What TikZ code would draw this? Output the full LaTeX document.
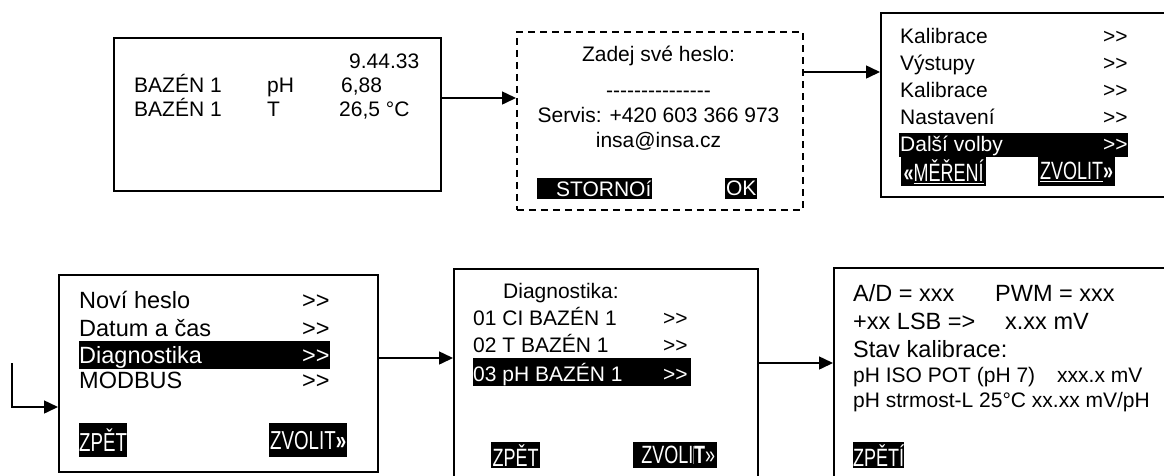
\documentclass[tikz,border=0pt]{standalone}
\usepackage{fontspec}
\setmainfont{Liberation Sans}
\newfontfamily\narrowfont[FakeStretch=0.72]{Liberation Sans}
\usetikzlibrary{arrows.meta}
\definecolor{lcdink}{HTML}{000000}
\definecolor{lcdpaper}{HTML}{FFFFFF}
\newcommand\nxt{>\kern0pt>}
\newcommand\pwdrow{-\kern0pt-\kern0pt-\kern0pt-\kern0pt-\kern0pt-\kern0pt-\kern0pt-\kern0pt-\kern0pt-\kern0pt-\kern0pt-\kern0pt-\kern0pt-\kern0pt-}

\tikzset{
  screen/.style={draw=lcdink, line width=1.5pt, inner sep=0pt, anchor=north west},
  txt/.style={inner sep=0pt, anchor=base west, text=lcdink, font=\fontsize{21}{25}\selectfont},
  big/.style={txt, font=\fontsize{23.5}{28}\selectfont},
  inv/.style={txt, text=lcdpaper},
  biginv/.style={big, text=lcdpaper},
  hibar/.style={fill=lcdink, inner sep=0pt, anchor=north west},
  btn/.style={hibar, text=lcdpaper, font=\narrowfont\fontsize{25}{29}\selectfont},
  flow/.style={draw=lcdink, line width=1.5pt, -{Triangle[length=14pt,width=13pt]}}
}

\begin{document}
\begin{tikzpicture}[x=1pt, y=-1pt]
    \useasboundingbox[fill=lcdpaper] (0,0) rectangle (1164,475);
    \clip (0,0) rectangle (1164,475);

    % measured values
    \node[screen, minimum width=327pt, minimum height=153pt] (home) at (113,37) {};
    \node[txt] (clock) at (349,68.5) {9.44.33};
    \node[txt] (poolA) at (134,92.5) {BAZÉN 1};
    \node[txt] (qtyA) at (267,92.5) {pH};
    \node[txt] (valA) at (341,92.5) {6,88};
    \node[txt] (poolB) at (134,116.5) {BAZÉN 1};
    \node[txt] (qtyB) at (267,116.5) {T};
    \node[txt] (valB) at (339,116.5) {26,5 °C};

    % password
    \node[screen, dash pattern=on 7pt off 5pt, minimum width=286pt, minimum height=178pt] (login) at (516,31) {};
    \node[txt, anchor=base] (prompt) at (658.5,61) {Zadej své heslo:};
    \node[txt, anchor=base] (pwd) at (658.5,97.5) {\pwdrow};
    \node[txt, anchor=base] (phone) at (658.5,122) {Servis: +420 603 366 973};
    \node[txt, anchor=base] (mail) at (658.5,147) {insa@insa.cz};
    \node[btn, font=\fontsize{21}{25}\selectfont, minimum width=115pt, minimum height=21pt] (cancel) at (537,178) {\hspace*{18pt}STORNOí};
    \node[btn, font=\fontsize{21}{25}\selectfont, minimum width=32pt, minimum height=21pt] (ok) at (725,178) {OK};

    % main menu
    \node[screen, minimum width=320pt, minimum height=184pt] (menu) at (880,12) {};
    \node[txt] (calA) at (900,43) {Kalibrace};
    \node[txt] (outs) at (900,70) {Výstupy};
    \node[txt] (calB) at (900,97) {Kalibrace};
    \node[txt] (setup) at (900,124) {Nastavení};
    \node[hibar, minimum width=229pt, minimum height=24pt] (morebar) at (899,133) {};
    \node[inv] (more) at (900,151) {Další volby};
    \foreach \y/\n in {43/a, 70/b, 97/c, 124/d} {
      \node[txt] (menugo\n) at (1103,\y) {\nxt};
    }
    \node[inv] (menugoe) at (1103,151) {\nxt};
    \node[btn, minimum width=85pt, minimum height=29pt] (measure) at (901,157) {\textbf{«}\underline{MĚŘENÍ}};
    \node[btn, minimum width=77pt, minimum height=29pt] (pickA) at (1038,157) {\underline{ZVOLIT}\textbf{»}};

    % further options
    \node[screen, minimum width=319pt, minimum height=197pt] (extra) at (58,274) {};
    \node[big] (newpwd) at (79,308) {Noví heslo};
    \node[big] (clockset) at (79,336) {Datum a čas};
    \node[hibar, minimum width=251pt, minimum height=28pt] (diagbar) at (79,341) {};
    \node[biginv] (diagitem) at (79,363) {Diagnostika};
    \node[big] (modbus) at (79,388) {MODBUS};
    \node[big] (extgoa) at (302,308) {\nxt};
    \node[big] (extgob) at (302,336) {\nxt};
    \node[biginv] (extgoc) at (302,363) {\nxt};
    \node[big] (extgod) at (302,388) {\nxt};
    \node[btn, font=\narrowfont\fontsize{26}{30}\selectfont, minimum width=44pt, minimum height=34pt] (backA) at (79,423) {ZPĚT};
    \node[btn, font=\narrowfont\fontsize{26}{30}\selectfont, minimum width=78pt, minimum height=34pt] (pickB) at (269,423) {ZVOLIT\textbf{»}};

    % diagnostics list
    \node[screen, minimum width=304pt, minimum height=230pt] (diag) at (453,268) {};
    \node[txt] (diaghead) at (503,298) {Diagnostika:};
    \node[txt] (chA) at (473,325) {01 CI BAZÉN 1};
    \node[txt] (chB) at (473,352) {02 T BAZÉN 1};
    \node[hibar, minimum width=218pt, minimum height=28pt] (chbar) at (473,358) {};
    \node[inv] (chC) at (473,381) {03 pH BAZÉN 1};
    \node[txt] (chgoa) at (663,325) {\nxt};
    \node[txt] (chgob) at (663,352) {\nxt};
    \node[inv] (chgoc) at (663,381) {\nxt};
    \node[btn, minimum width=49pt, minimum height=26pt] (backB) at (491,442) {ZPĚT};
    \node[btn, minimum width=84pt, minimum height=26pt] (pickC) at (633,442) {\hspace*{6pt}ZVOLI\textcolor{gray}{\vrule width 0.8pt}\textbf{T}»};

    % channel detail
    \node[screen, minimum width=360pt, minimum height=230pt] (detail) at (833,267) {};
    \node[big] (adc) at (853,301) {A/D = xxx};
    \node[big] (pwm) at (995,301) {PWM = xxx};
    \node[big] (lsb) at (853,329) {+xx LSB =>};
    \node[big] (lsbmv) at (1005,329) {x.xx mV};
    \node[big] (calstate) at (853,357) {Stav kalibrace:};
    \node[txt] (isopot) at (853,382) {pH ISO POT (pH 7)};
    \node[txt] (isomv) at (1057,382) {xxx.x mV};
    \node[txt] (slope) at (853,407) {pH strmost-L 25°C xx.xx mV/pH};
    \node[btn, minimum width=49pt, minimum height=26pt] (backC) at (853,442) {ZPĚTÍ};

    \coordinate (entry) at (12,363);
    \draw[flow] (home.east |- 0,98) -- (login.west |- 0,98);
    \draw[flow] (login.east |- 0,72) -- (menu.west |- 0,72);
    \draw[flow] (entry) |- (extra.west |- 0,407);
    \draw[flow] (extra.east |- 0,358) -- (diag.west |- 0,358);
    \draw[flow] (diag.east |- 0,363) -- (detail.west |- 0,363);
\end{tikzpicture}
\end{document}
